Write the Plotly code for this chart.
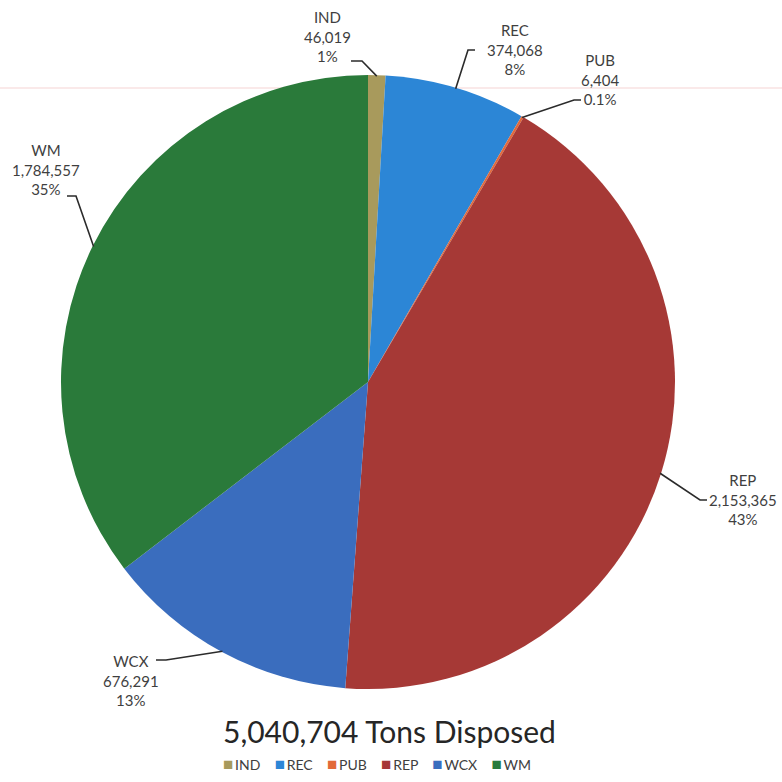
import math
import plotly.graph_objects as go

# Disposal tonnage by hauler
haulers = ["IND", "REC", "PUB", "REP", "WCX", "WM"]
tons = [46019, 374068, 6404, 2153365, 676291, 1784557]
pct_labels = ["1%", "8%", "0.1%", "43%", "13%", "35%"]
colors = ["#A89A5C", "#2C86D6", "#E2693A", "#A63936", "#3A6DBE", "#2A7A3A"]

W = H = 782
CX, CY, R = 368, 382, 307  # pie centre and radius in pixels


def px(x):
    return x / W


def py(y):
    return 1 - y / H


# label block centres and leader-line knee / text-side end points (pixels)
label_layout = {
    "IND": dict(text=(327, 37), knee=(362, 61), end=(351, 61)),
    "REC": dict(text=(515, 49), knee=(468, 50), end=(475, 50)),
    "PUB": dict(text=(600, 80), knee=(574, 100), end=(581, 100)),
    "REP": dict(text=(743, 499), knee=(700, 500), end=(707, 500)),
    "WCX": dict(text=(131, 680), knee=(166, 660), end=(156, 660)),
    "WM": dict(text=(46, 169), knee=(76, 196), end=(67, 196)),
}

total = sum(tons)

fig = go.Figure(
    go.Pie(
        labels=haulers,
        values=tons,
        sort=False,
        direction="clockwise",
        rotation=0,
        textinfo="none",
        hoverinfo="label+value+percent",
        marker=dict(colors=colors, line=dict(width=0)),
        domain=dict(x=[px(CX - R), px(CX + R)], y=[py(CY + R), py(CY - R)]),
        showlegend=False,
    )
)

shapes = [
    # faint pink rule running across the page
    dict(type="line", xref="paper", yref="paper", x0=0, x1=1, y0=py(88), y1=py(88),
         line=dict(color="rgba(235,170,170,0.35)", width=1.5), layer="below"),
]
annotations = []

cum = 0
for name, v, pct in zip(haulers, tons, pct_labels):
    mid = (cum + v / 2) / total * 2 * math.pi
    cum += v
    ex = CX + (R - 1) * math.sin(mid)
    ey = CY - (R - 1) * math.cos(mid)
    lay = label_layout[name]
    kx, ky = lay["knee"]
    tx, ty = lay["end"]
    path = f"M {px(ex)},{py(ey)} L {px(kx)},{py(ky)} L {px(tx)},{py(ty)}"
    shapes.append(dict(type="path", xref="paper", yref="paper", path=path,
                       line=dict(color="#2b2b2b", width=1.6)))
    cx, cy = lay["text"]
    annotations.append(dict(
        x=px(cx), y=py(cy), xref="paper", yref="paper", showarrow=False,
        text=f"{name}<br>{v:,}<br>{pct}", align="center",
        xanchor="center", yanchor="middle",
        font=dict(family="Lato", size=15, color="#3f3f3f"),
    ))

annotations.append(dict(
    x=px(389), y=py(731), xref="paper", yref="paper", showarrow=False,
    text=f"{total:,} Tons Disposed", xanchor="center", yanchor="middle",
    font=dict(family="Lato", size=30, color="#262626"),
))

# compact legend row: coloured square + hauler code
gap = "\u00a0" * 4
legend_text = gap.join(
    f"<span style='color:{c};font-size:17px'>■</span>\u2009{n}"
    for n, c in zip(haulers, colors)
)
annotations.append(dict(
    x=px(377), y=py(763), xref="paper", yref="paper", showarrow=False,
    text=legend_text, xanchor="center", yanchor="middle",
    font=dict(family="Lato", size=14, color="#404040"),
))

fig.update_layout(
    width=W,
    height=H,
    margin=dict(l=0, r=0, t=0, b=0),
    paper_bgcolor="white",
    plot_bgcolor="white",
    shapes=shapes,
    annotations=annotations,
    showlegend=False,
)

fig.write_html("out.html")
